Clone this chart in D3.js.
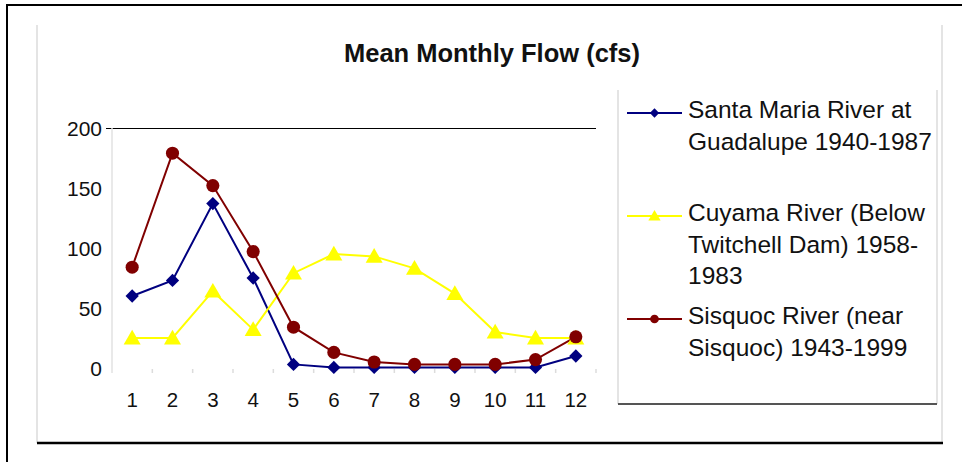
<!DOCTYPE html>
<html>
<head>
<meta charset="utf-8">
<script src="https://cdn.jsdelivr.net/npm/d3@7"></script>
<style>
  html, body { margin: 0; padding: 0; background: #fff; }
  svg { display: block; font-family: "Liberation Sans", Arial, sans-serif; }
</style>
</head>
<body>
<svg id="chart" width="962" height="462"></svg>
<script>
// Mean monthly flow, cfs, by month
const months = [1, 2, 3, 4, 5, 6, 7, 8, 9, 10, 11, 12];
const santaMaria = [60, 73, 137, 75, 3, 0.5, 0.5, 0.5, 0.5, 0.5, 0.5, 10];
const cuyama = [25, 25, 64, 32, 79, 95, 93, 83, 62, 30, 25, 25];
const sisquoc = [84, 179, 152, 97, 34, 13, 5, 3, 3, 3, 7, 26];
const yTicks = [0, 50, 100, 150, 200];

const seriesNames = [
  ['Santa Maria River at', 'Guadalupe 1940-1987'],
  ['Cuyama River (Below', 'Twitchell Dam) 1958-', '1983'],
  ['Sisquoc River (near', 'Sisquoc) 1943-1999']
];

// diamond = square turned 45 degrees
const series = [
  { values: santaMaria, color: '#000080', symbol: d3.symbolSquare, rotate: 45, size: 88, legendSize: 44 },
  { values: cuyama, color: '#ffff00', symbol: d3.symbolTriangle, rotate: 0, size: 125, legendSize: 65 },
  { values: sisquoc, color: '#800000', symbol: d3.symbolCircle, rotate: 0, size: 135, legendSize: 60 }
];

const svg = d3.select('#chart');

// ── frames ─────────────────────────────────────────────
svg.append('path')
  .attr('d', 'M6,5H962M7,5V462')
  .attr('fill', 'none').attr('stroke', '#000').attr('stroke-width', 2);
svg.append('path')
  .attr('d', 'M37,25V443M942,25V443')
  .attr('fill', 'none').attr('stroke', '#e4e4e4').attr('stroke-width', 2);
svg.append('line')
  .attr('x1', 37).attr('x2', 943).attr('y1', 443).attr('y2', 443)
  .attr('stroke', '#000').attr('stroke-width', 2.5);

// title
svg.append('text')
  .attr('x', 492).attr('y', 62)
  .attr('text-anchor', 'middle')
  .attr('font-size', 25.5).attr('font-weight', 'bold')
  .attr('fill', '#111')
  .text('Mean Monthly Flow (cfs)');

// ── plot ───────────────────────────────────────────────
const plot = { left: 112, right: 596, top: 128, bottom: 368 };

const x = d3.scaleBand()
  .domain(months)
  .range([plot.left, plot.right]);

const y = d3.scaleLinear()
  .domain([0, 200])
  .range([plot.bottom, plot.top]);

// top line (200) and y axis
svg.append('line')
  .attr('x1', 106).attr('x2', plot.right)
  .attr('y1', y(200) + 0.5).attr('y2', y(200) + 0.5)
  .attr('stroke', '#000').attr('stroke-width', 1)
  .attr('shape-rendering', 'crispEdges');
svg.append('line')
  .attr('x1', plot.left).attr('x2', plot.left)
  .attr('y1', y(200)).attr('y2', plot.bottom + 5)
  .attr('stroke', '#e2e2e2').attr('stroke-width', 1.5);

// category ticks
const boundaries = months.map((m) => x(m)).concat([plot.right]);
svg.append('g')
  .selectAll('line')
  .data(boundaries.slice(1))
  .join('line')
  .attr('x1', (d) => d).attr('x2', (d) => d)
  .attr('y1', plot.bottom + 1).attr('y2', plot.bottom + 5)
  .attr('stroke', '#dcdcdc').attr('stroke-width', 1.5);

// y labels
svg.append('g')
  .selectAll('text')
  .data(yTicks)
  .join('text')
  .attr('x', 102)
  .attr('y', (d) => y(d))
  .attr('dy', '0.36em')
  .attr('text-anchor', 'end')
  .attr('font-size', 21)
  .attr('fill', '#111')
  .text((d) => d);

// x labels
svg.append('g')
  .selectAll('text')
  .data(months)
  .join('text')
  .attr('x', (d) => x(d) + x.bandwidth() / 2)
  .attr('y', 407)
  .attr('text-anchor', 'middle')
  .attr('font-size', 20.5)
  .attr('fill', '#111')
  .text((d) => d);

// lines + markers
const line = d3.line()
  .x((d, i) => x(months[i]) + x.bandwidth() / 2)
  .y((d) => y(d));

series.forEach((s) => {
  svg.append('path')
    .datum(s.values)
    .attr('d', line)
    .attr('fill', 'none')
    .attr('stroke', s.color)
    .attr('stroke-width', 2);
});

series.forEach((s) => {
  svg.append('g')
    .selectAll('path')
    .data(s.values)
    .join('path')
    .attr('transform', (d, i) => {
      const cx = x(months[i]) + x.bandwidth() / 2;
      const cy = y(d) + (s.symbol === d3.symbolTriangle ? 1.5 : 0);
      return `translate(${cx},${cy}) rotate(${s.rotate})`;
    })
    .attr('d', d3.symbol().type(s.symbol).size(s.size))
    .attr('fill', s.color);
});

// ── legend ─────────────────────────────────────────────
svg.append('path')
  .attr('d', 'M618,90V404M937,90V404')
  .attr('fill', 'none').attr('stroke', '#e4e4e4').attr('stroke-width', 2);
svg.append('line')
  .attr('x1', 618).attr('x2', 937).attr('y1', 404).attr('y2', 404)
  .attr('stroke', '#555').attr('stroke-width', 2);

const legendY = [113, 216, 319];
const legend = svg.append('g')
  .selectAll('g')
  .data(series)
  .join('g')
  .attr('transform', (d, i) => `translate(0,${legendY[i]})`);

legend.append('line')
  .attr('x1', 627).attr('x2', 682)
  .attr('stroke', (d) => d.color)
  .attr('stroke-width', 2);

legend.append('path')
  .attr('transform', (d) =>
    `translate(654.5,${d.symbol === d3.symbolTriangle ? 1 : 0}) rotate(${d.rotate})`)
  .attr('d', (d) => d3.symbol().type(d.symbol).size(d.legendSize)())
  .attr('fill', (d) => d.color);

legend.append('text')
  .attr('x', 688)
  .attr('y', 5)
  .attr('font-size', 24.5)
  .attr('fill', '#111')
  .selectAll('tspan')
  .data((d, i) => seriesNames[i])
  .join('tspan')
  .attr('x', 688)
  .attr('dy', (d, j) => (j === 0 ? 0 : 31.5))
  .text((d) => d);
</script>
</body>
</html>
